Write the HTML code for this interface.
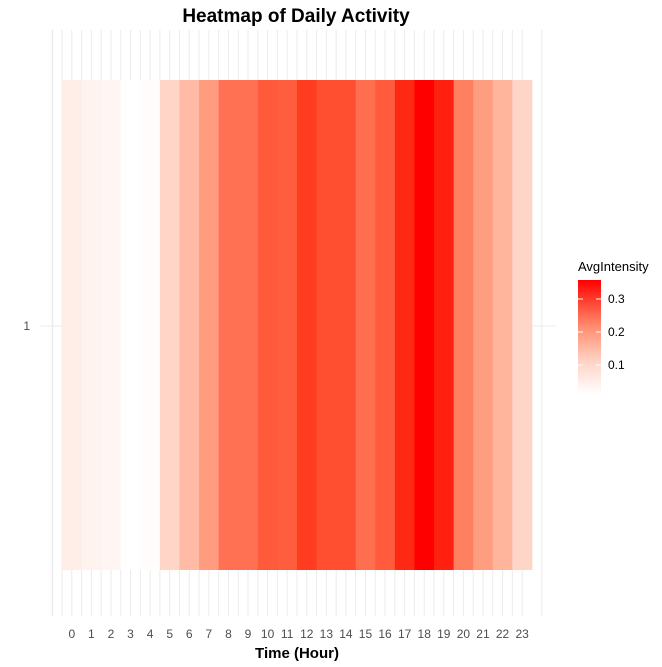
<!DOCTYPE html>
<html><head><style>body{margin:0;background:#fff}</style></head><body>
<svg width="662" height="662" xmlns="http://www.w3.org/2000/svg" font-family="Liberation Sans, sans-serif">
<rect width="662" height="662" fill="#fff"/>
<g id="grid" stroke="#ebebeb" stroke-width="1"></g>
<line x1="40" y1="326" x2="556" y2="326" stroke="#ebebeb"/>
<g id="tiles"></g>
<text x="296" y="22" font-size="19" font-weight="bold" text-anchor="middle" fill="#000">Heatmap of Daily Activity</text>
<text x="30" y="330" font-size="12" fill="#4d4d4d" text-anchor="end">1</text>
<g id="xl" font-size="12" fill="#4d4d4d" text-anchor="middle"></g>
<text x="297" y="658" font-size="15" font-weight="bold" text-anchor="middle">Time (Hour)</text>
<text x="578" y="271" font-size="13" fill="#000">AvgIntensity</text>
<defs><linearGradient id="g" x1="0" y1="1" x2="0" y2="0"><stop offset="0" stop-color="#fff"/><stop offset="0.3" stop-color="#ffd0c2"/><stop offset="0.6" stop-color="#ff8a6c"/><stop offset="1" stop-color="#ff0000"/></linearGradient></defs>
<rect x="578" y="280" width="23" height="114" fill="url(#g)"/>
<g stroke="#fff" stroke-width="1"><line x1="578" y1="299" x2="583" y2="299"/><line x1="596" y1="299" x2="601" y2="299"/><line x1="578" y1="332" x2="583" y2="332"/><line x1="596" y1="332" x2="601" y2="332"/><line x1="578" y1="365" x2="583" y2="365"/><line x1="596" y1="365" x2="601" y2="365"/></g>
<g font-size="12" fill="#000"><text x="608" y="303">0.3</text><text x="608" y="336">0.2</text><text x="608" y="369">0.1</text></g>
</svg>
<script>
var c=["#ffeee8","#fff3f0","#fff5f3","#ffffff","#fffcfb","#ffd5c8","#ffbba5","#ff9c80","#ff7152","#ff7152","#ff5a3a","#ff5e3e","#ff3c20","#ff4f30","#ff4f30","#ff6e4f","#ff5b3c","#ff2812","#ff0000","#ff2010","#ff8060","#ff9d80","#ffb49c","#ffd5c8"];
var ns="http://www.w3.org/2000/svg",w=19.58,x0=62;
var t=document.getElementById("tiles"),g=document.getElementById("grid"),xl=document.getElementById("xl");
function el(n,a,p){var e=document.createElementNS(ns,n);for(var k in a)e.setAttribute(k,a[k]);p.appendChild(e);return e;}
for(var i=0;i<=48;i++){var x=x0-w/2+i*w/2;if(x<50)continue;el("line",{x1:x,y1:30,x2:x,y2:616},g);}
el("line",{x1:52.7,y1:30,x2:52.7,y2:616},g);el("line",{x1:541.8,y1:30,x2:541.8,y2:616},g);
for(var i=0;i<24;i++){el("rect",{x:x0+i*w,y:80,width:w+0.4,height:490,fill:c[i]},t);var s=el("text",{x:x0+w/2+i*w,y:638},xl);s.textContent=i;}
</script>
</body></html>
